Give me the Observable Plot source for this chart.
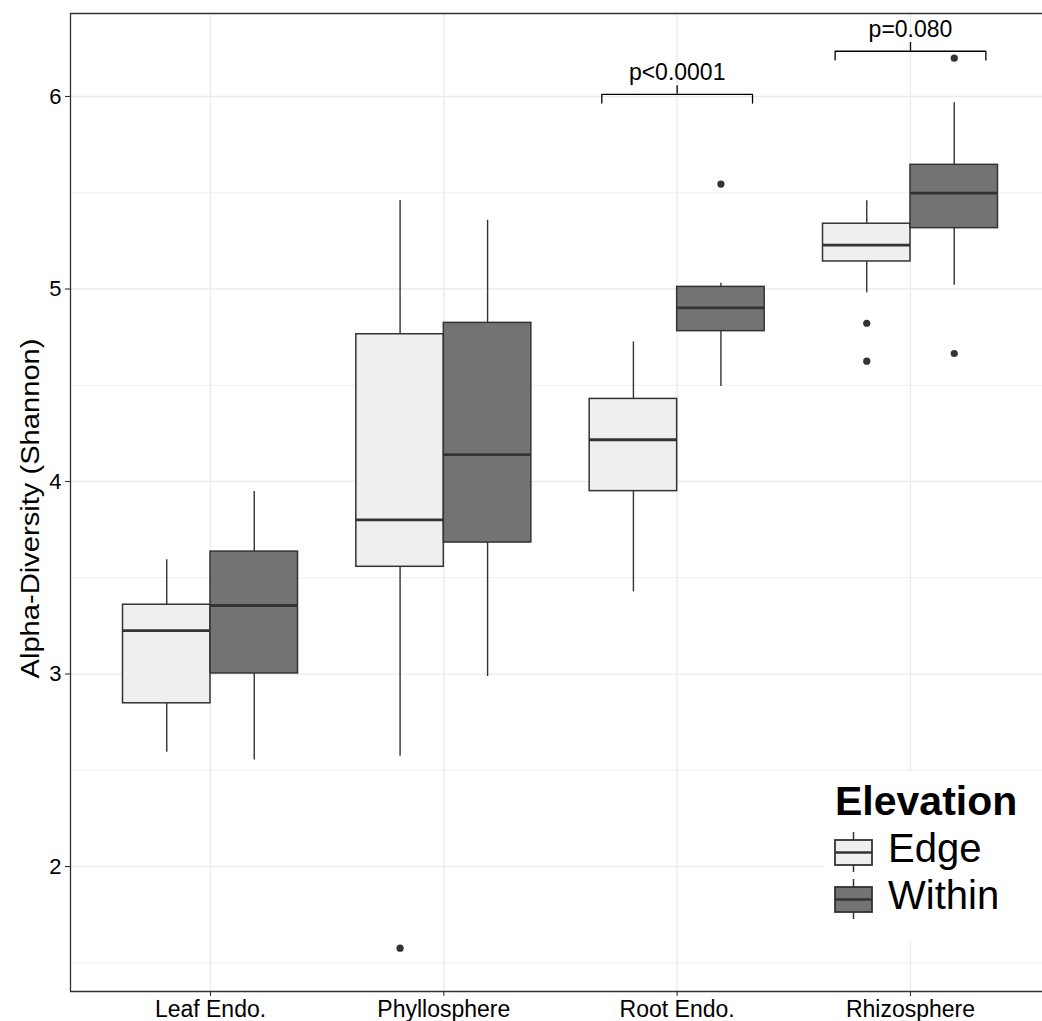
<!DOCTYPE html>
<html><head><meta charset="utf-8">
<script src="https://cdn.jsdelivr.net/npm/d3@7"></script>
<script src="https://cdn.jsdelivr.net/npm/@observablehq/plot@0.6"></script>
<style>
html,body{margin:0;padding:0;background:#fff;overflow:hidden;}
#wrap{position:relative;width:1042px;height:1021px;overflow:hidden;background:#fff;}
#legend{position:absolute;left:823px;top:771px;}
</style></head><body><div id="wrap"></div>
<script>
// ---------- data ----------
const categories = ["Leaf Endo.", "Phyllosphere", "Root Endo.", "Rhizosphere"];
const groups = ["Edge", "Within"];
const groupFills = ["#efefef", "#737373"];

const edgeLower   = [2.594, 2.573, 3.427, 4.980];
const edgeQ1      = [2.848, 3.557, 3.950, 5.143];
const edgeMedian  = [3.226, 3.801, 4.217, 5.228];
const edgeQ3      = [3.360, 4.765, 4.429, 5.339];
const edgeUpper   = [3.593, 5.460, 4.725, 5.458];
const edgeOutliers = [[], [1.576], [], [4.822, 4.625]];

const withinLower  = [2.554, 2.987, 4.494, 5.020];
const withinQ1     = [3.003, 3.683, 4.781, 5.316];
const withinMedian = [3.356, 4.140, 4.902, 5.498];
const withinQ3     = [3.636, 4.824, 5.011, 5.645];
const withinUpper  = [3.948, 5.357, 5.030, 5.967];
const withinOutliers = [[], [], [5.545], [6.199, 4.665]];

const pCategories = ["Root Endo.", "Rhizosphere"];
const pLabels = ["p<0.0001", "p=0.080"];
const pBracketY = [6.011, 6.235];

const yTicks = [2, 3, 4, 5, 6];
const yMinorTicks = [1.5, 2.5, 3.5, 4.5, 5.5];
const yDomain = [1.351, 6.431];
const yTitle = "Alpha-Diversity (Shannon)";
const legendTitle = "Elevation";

// ---------- derived tables ----------
const DODGE = 0.1875, HALF = 0.1875, BR = 0.323, TICK = 0.045;
const stats = [
  {lo: edgeLower, q1: edgeQ1, med: edgeMedian, q3: edgeQ3, hi: edgeUpper, out: edgeOutliers},
  {lo: withinLower, q1: withinQ1, med: withinMedian, q3: withinQ3, hi: withinUpper, out: withinOutliers}
];
const boxes = [], outliers = [];
categories.forEach((c, i) => {
  groups.forEach((g, j) => {
    const s = stats[j];
    const pos = i + 1 + (j === 0 ? -DODGE : DODGE);
    boxes.push({cat: c, group: g, pos, lo: s.lo[i], q1: s.q1[i], med: s.med[i], q3: s.q3[i], hi: s.hi[i]});
    s.out[i].forEach(v => outliers.push({group: g, pos, v}));
  });
});
const brackets = [], bracketTicks = [], pTexts = [];
pCategories.forEach((c, k) => {
  const x = categories.indexOf(c) + 1, b = pBracketY[k];
  brackets.push({k, x: x - BR, y: b - TICK}, {k, x: x - BR, y: b}, {k, x: x + BR, y: b}, {k, x: x + BR, y: b - TICK});
  bracketTicks.push({x, y1: b, y2: b + TICK});
  pTexts.push({x, y: b, text: pLabels[k]});
});

const FONT = "'Liberation Sans', Arial, Helvetica, sans-serif";
const plot = Plot.plot({
  width: 1042,
  height: 1021,
  marginTop: 13,
  marginBottom: 30,
  marginLeft: 70,
  marginRight: 0,
  style: {fontFamily: FONT, fontSize: "22px", color: "#000", background: "#fff"},
  x: {domain: [0.4, 4.6], range: [70, 1050]},
  y: {domain: yDomain},
  color: {domain: groups, range: groupFills},
  marks: [
    Plot.ruleY(yMinorTicks, {stroke: "#ebebeb", strokeWidth: 0.8}),
    Plot.ruleY(yTicks, {stroke: "#ebebeb", strokeWidth: 1.3}),
    Plot.ruleX([1, 2, 3, 4], {stroke: "#ebebeb", strokeWidth: 1.3}),
    Plot.ruleX(boxes, {x: "pos", y1: "lo", y2: "q1", stroke: "#333", strokeWidth: 1.4}),
    Plot.ruleX(boxes, {x: "pos", y1: "q3", y2: "hi", stroke: "#333", strokeWidth: 1.4}),
    Plot.rect(boxes, {x1: d => d.pos - HALF, x2: d => d.pos + HALF, y1: "q1", y2: "q3", fill: "group", stroke: "#333", strokeWidth: 1.5}),
    Plot.ruleY(boxes, {y: "med", x1: d => d.pos - HALF, x2: d => d.pos + HALF, stroke: "#333", strokeWidth: 2.8}),
    Plot.dot(outliers, {x: "pos", y: "v", r: 3.6, fill: "#333", stroke: null}),
    Plot.line(brackets, {x: "x", y: "y", z: "k", stroke: "#000", strokeWidth: 1.3}),
    Plot.ruleX(bracketTicks, {x: "x", y1: "y1", y2: "y2", stroke: "#000", strokeWidth: 1.3}),
    Plot.text(pTexts, {x: "x", y: "y", text: "text", dy: -22, lineAnchor: "middle", fontSize: 23, fill: "#000"}),
    Plot.axisY({ticks: yTicks, tickFormat: "d", tickSize: 5, tickPadding: 4, fontSize: 22, label: null, stroke: "#333", fill: "#000", strokeWidth: 1.1}),
    Plot.axisX({ticks: [1, 2, 3, 4], tickFormat: i => categories[i - 1], tickSize: 5, tickPadding: 4, fontSize: 23, label: null, stroke: "#333", fill: "#000", strokeWidth: 1.1}),
    Plot.ruleX([0.4], {stroke: "#333", strokeWidth: 1.3}),
    Plot.ruleY([yDomain[0], yDomain[1]], {stroke: "#333", strokeWidth: 1.3}),
    Plot.text([yTitle], {frameAnchor: "left", text: d => d, rotate: -90, dx: -40, dy: 6, fontSize: 26, fill: "#000", lineAnchor: "middle"})
  ]
});
const wrap = document.getElementById("wrap");
wrap.appendChild(plot);
plot.querySelectorAll("text").forEach(t => {
  if (t.textContent === yTitle) {
    t.setAttribute("text-anchor", "start");
    t.setAttribute("x", -170);
    t.setAttribute("textLength", 340);
    t.setAttribute("lengthAdjust", "spacingAndGlyphs");
  }
});

// ---------- legend (inside panel, bottom right) ----------
const ns = "http://www.w3.org/2000/svg";
const lg = document.createElementNS(ns, "svg");
lg.setAttribute("id", "legend");
lg.setAttribute("width", 219);
lg.setAttribute("height", 169);
lg.style.fontFamily = FONT;
const add = (tag, attrs, txt) => {
  const e = document.createElementNS(ns, tag);
  for (const k in attrs) e.setAttribute(k, attrs[k]);
  if (txt) e.textContent = txt;
  lg.appendChild(e);
  return e;
};
add("rect", {x: 0, y: 0, width: 219, height: 169, fill: "#fff"});
add("text", {x: 12, y: 44, "font-size": 41, "font-weight": "bold", fill: "#000"}, legendTitle);
groups.forEach((g, j) => {
  const top = 69 + j * 47;
  add("line", {x1: 30.5, x2: 30.5, y1: top - 8, y2: top + 32, stroke: "#333", "stroke-width": 1.5});
  add("rect", {x: 12, y: top, width: 37, height: 25, fill: groupFills[j], stroke: "#333", "stroke-width": 1.8});
  add("line", {x1: 12, x2: 49, y1: top + 12.5, y2: top + 12.5, stroke: "#333", "stroke-width": 2.6});
  add("text", {x: 65, y: top + 22, "font-size": 40, fill: "#000"}, g);
});
wrap.appendChild(lg);
</script></body></html>
